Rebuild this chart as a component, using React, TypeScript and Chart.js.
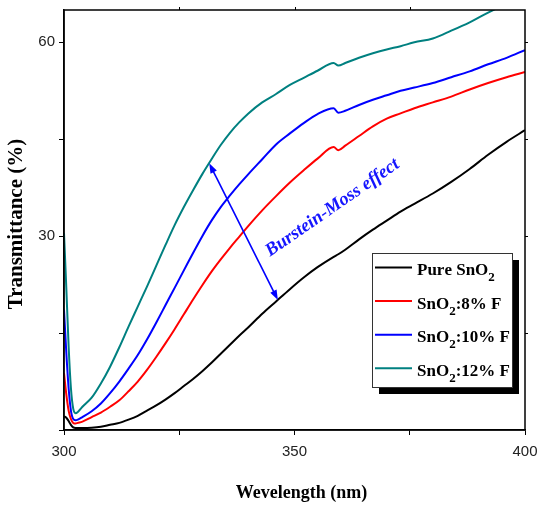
import React, { useEffect, useRef } from 'react';
import { Chart, registerables } from 'chart.js';

Chart.register(...registerables);

// ---------- data ----------
const wavelengths = [
  300, 300.5, 301, 301.5, 302, 302.5, 303, 304, 306, 308, 310, 312, 314, 316, 318, 320, 322, 324,
  326, 328, 330, 332, 334, 336, 338, 340, 343, 346, 349, 352, 355, 358.5, 359.5, 361, 364, 367,
  370, 373, 376, 380, 384, 388, 392, 396, 400,
];
const pureSnO2 = [
  2.1, 1.9, 1.4, 0.8, 0.4, 0.3, 0.3, 0.3, 0.35, 0.5, 0.8, 1.1, 1.6, 2.2, 3.0, 3.8, 4.7, 5.7,
  6.8, 7.9, 9.1, 10.4, 11.8, 13.2, 14.6, 15.9, 18.0, 19.9, 21.8, 23.6, 25.2, 26.8, 27.2, 27.9, 29.5, 31.0,
  32.4, 33.8, 35.0, 36.6, 38.4, 40.4, 42.6, 44.6, 46.4,
];
const snO2F8 = [
  8.8, 5.5, 3.0, 1.7, 1.1, 1.0, 1.1, 1.3, 2.0, 2.7, 3.6, 4.6, 6.0, 7.5, 9.3, 11.3, 13.4, 15.6,
  17.9, 20.2, 22.4, 24.5, 26.4, 28.2, 29.9, 31.6, 34.0, 36.2, 38.3, 40.2, 42.0, 43.8, 43.3, 44.0, 45.5, 47.0,
  48.2, 49.0, 49.8, 50.7, 51.6, 52.7, 53.7, 54.6, 55.4,
];
const snO2F10 = [
  18.6, 12.0, 6.5, 3.0, 1.7, 1.5, 1.6, 2.0, 2.9, 4.1, 5.7, 7.5, 9.5, 11.6, 14.0, 16.6, 19.3, 22.0,
  24.7, 27.4, 30.0, 32.4, 34.5, 36.3, 38.0, 39.6, 41.9, 44.2, 45.9, 47.5, 48.9, 49.8, 49.1, 49.4, 50.3, 51.1,
  51.8, 52.5, 53.0, 53.7, 54.6, 55.5, 56.6, 57.6, 58.8,
];
const snO2F12 = [
  30.5, 22.0, 13.0, 6.5, 3.3, 2.6, 2.8, 3.6, 5.0, 7.2, 9.8, 12.8, 16.0, 19.1, 22.2, 25.4, 28.6, 31.7,
  34.5, 37.1, 39.6, 41.9, 44.1, 46.0, 47.6, 49.0, 50.7, 52.0, 53.4, 54.5, 55.6, 56.8, 56.4, 56.8, 57.6, 58.3,
  58.9, 59.4, 60.0, 60.6, 61.8, 63.1, 64.6, 66.0, 67.5,
];

const seriesValues = [pureSnO2, snO2F8, snO2F10, snO2F12];
const seriesNames = ['Pure SnO2', 'SnO2:8% F', 'SnO2:10% F', 'SnO2:12% F'];
const seriesColors = ['#000000', '#ff0000', '#0000ff', '#008080'];

const xLabeledTicks = [300, 350, 400];
const yLabeledTicks = [30, 60];

const xTitle = 'Wevelength (nm)';
const yTitle = 'Transmittance (%)';

const arrowStart = [346.4, 20.1];
const arrowEnd = [331.5, 41.3];
const annotationText = 'Burstein-Moss effect';
const annotationAnchor = [344.7, 26.8];

const SERIF = '"Liberation Serif", "Times New Roman", serif';
const SANS = '"Liberation Sans", Arial, sans-serif';

// draw text where "O2" is rendered as O with subscript 2
function drawChem(ctx: CanvasRenderingContext2D, text: string, x: number, y: number, size: number) {
  let cx = x;
  for (let i = 0; i < text.length; i++) {
    const ch = text[i];
    if (ch === '2' && i > 0 && text[i - 1] === 'O') {
      ctx.font = `bold ${Math.round(size * 0.76)}px ${SERIF}`;
      ctx.fillText(ch, cx, y + 6);
      cx += ctx.measureText(ch).width;
    } else {
      ctx.font = `bold ${size}px ${SERIF}`;
      ctx.fillText(ch, cx, y);
      cx += ctx.measureText(ch).width;
    }
  }
}

const decorPlugin = {
  id: 'decor',
  afterDraw(chart: any) {
    const { ctx, chartArea: a, scales } = chart;
    const xs = scales.x;
    const ys = scales.y;
    ctx.save();

    // frame (top & right)
    ctx.strokeStyle = '#000';
    ctx.lineWidth = 1.5;
    ctx.strokeRect(a.left, a.top, a.right - a.left, a.bottom - a.top);
    ctx.lineWidth = 1;
    ctx.beginPath();
    for (let v = 325; v < 400; v += 25) {
      const px = Math.round(xs.getPixelForValue(v)) + 0.5;
      ctx.moveTo(px, a.top);
      ctx.lineTo(px, a.top - 3);
    }
    for (let v = 15; v <= 60; v += 15) {
      const py = Math.round(ys.getPixelForValue(v)) + 0.5;
      ctx.moveTo(a.right, py);
      ctx.lineTo(a.right + 3, py);
    }
    ctx.stroke();

    // double arrow
    const x1 = xs.getPixelForValue(arrowStart[0]);
    const y1 = ys.getPixelForValue(arrowStart[1]);
    const x2 = xs.getPixelForValue(arrowEnd[0]);
    const y2 = ys.getPixelForValue(arrowEnd[1]);
    const ang = Math.atan2(y2 - y1, x2 - x1);
    const hl = 10;
    const hw = 3.5;
    ctx.strokeStyle = '#0000ff';
    ctx.fillStyle = '#0000ff';
    ctx.lineWidth = 1.6;
    ctx.beginPath();
    ctx.moveTo(x1 + Math.cos(ang) * hl * 0.8, y1 + Math.sin(ang) * hl * 0.8);
    ctx.lineTo(x2 - Math.cos(ang) * hl * 0.8, y2 - Math.sin(ang) * hl * 0.8);
    ctx.stroke();
    const head = (tx: number, ty: number, dir: number) => {
      const bx = tx - Math.cos(dir) * hl;
      const by = ty - Math.sin(dir) * hl;
      ctx.beginPath();
      ctx.moveTo(tx, ty);
      ctx.lineTo(bx + Math.sin(dir) * hw, by - Math.cos(dir) * hw);
      ctx.lineTo(bx - Math.sin(dir) * hw, by + Math.cos(dir) * hw);
      ctx.closePath();
      ctx.fill();
    };
    head(x2, y2, ang);
    head(x1, y1, ang + Math.PI);

    // annotation
    ctx.save();
    ctx.translate(xs.getPixelForValue(annotationAnchor[0]), ys.getPixelForValue(annotationAnchor[1]));
    ctx.rotate((-34.7 * Math.PI) / 180);
    ctx.font = `italic bold 18.5px ${SERIF}`;
    ctx.fillStyle = '#1515ff';
    ctx.textAlign = 'left';
    ctx.textBaseline = 'alphabetic';
    ctx.fillText(annotationText, 0, 0);
    ctx.restore();

    // legend
    const lx = a.right - 153;
    const ly = a.top + 243;
    const lw = 140;
    const lh = 134;
    ctx.fillStyle = '#000';
    ctx.fillRect(lx + 7, ly + 7, lw, lh);
    ctx.fillStyle = '#fff';
    ctx.fillRect(lx, ly, lw, lh);
    ctx.strokeStyle = '#333';
    ctx.lineWidth = 1;
    ctx.strokeRect(lx + 0.5, ly + 0.5, lw, lh);
    ctx.textAlign = 'left';
    ctx.textBaseline = 'alphabetic';
    for (let i = 0; i < seriesNames.length; i++) {
      const rowY = ly + 14.5 + i * 33.6;
      ctx.strokeStyle = seriesColors[i];
      ctx.lineWidth = 2;
      ctx.beginPath();
      ctx.moveTo(lx + 3, rowY);
      ctx.lineTo(lx + 40, rowY);
      ctx.stroke();
      ctx.fillStyle = '#000';
      drawChem(ctx, seriesNames[i], lx + 45, rowY + 7.5, 17);
    }

    // axis titles
    ctx.fillStyle = '#000';
    ctx.textAlign = 'center';
    ctx.textBaseline = 'middle';
    ctx.font = `bold 18px ${SERIF}`;
    ctx.fillText(xTitle, (a.left + a.right) / 2 + 7, a.bottom + 63);
    ctx.save();
    ctx.translate(17, a.top + 214);
    ctx.rotate(-Math.PI / 2);
    ctx.font = `bold 21px ${SERIF}`;
    ctx.fillText(yTitle, 0, 0);
    ctx.restore();

    ctx.restore();
  },
};

export default function App() {
  const canvasRef = useRef<HTMLCanvasElement | null>(null);

  useEffect(() => {
    document.body.style.margin = '0';
    const canvas = canvasRef.current;
    if (!canvas) return;
    const datasets = seriesValues.map((vals, i) => ({
      label: seriesNames[i],
      data: wavelengths.map((w, j) => ({ x: w, y: vals[j] })),
      borderColor: seriesColors[i],
      backgroundColor: seriesColors[i],
      borderWidth: 2,
      pointRadius: 0,
      cubicInterpolationMode: 'monotone' as const,
      fill: false,
    }));
    const chart = new Chart(canvas, {
      type: 'line',
      data: { datasets },
      options: {
        responsive: false,
        animation: false,
        devicePixelRatio: 1,
        layout: { padding: { left: 0, top: 10, right: 14, bottom: 0 } },
        plugins: { legend: { display: false }, tooltip: { enabled: false } },
        scales: {
          x: {
            type: 'linear',
            min: 300,
            max: 400,
            afterFit: (s: any) => {
              s.height = 77;
              s.paddingLeft = 0;
              s.paddingRight = 0;
            },
            grid: { drawOnChartArea: false, drawTicks: true, tickLength: 5, color: '#000', lineWidth: 1 },
            border: { display: true, color: '#000', width: 1.5 },
            ticks: {
              stepSize: 25,
              includeBounds: false,
              autoSkip: false,
              maxRotation: 0,
              padding: 8,
              color: '#222',
              font: { family: SANS, size: 15 },
              callback: (v: any) => (xLabeledTicks.includes(Number(v)) ? String(v) : ''),
            },
          },
          y: {
            type: 'linear',
            min: 0,
            max: 65,
            afterFit: (s: any) => {
              s.width = 64;
              s.paddingTop = 0;
              s.paddingBottom = 0;
            },
            grid: { drawOnChartArea: false, drawTicks: true, tickLength: 5, color: '#000', lineWidth: 1 },
            border: { display: true, color: '#000', width: 1.5 },
            ticks: {
              stepSize: 15,
              includeBounds: false,
              autoSkip: false,
              padding: 4,
              color: '#222',
              font: { family: SANS, size: 15 },
              callback: (v: any) => (yLabeledTicks.includes(Number(v)) ? String(v) : ''),
            },
          },
        },
      },
      plugins: [decorPlugin],
    });
    return () => chart.destroy();
  }, []);

  return (
    <div style={{ width: 539, height: 507 }}>
      <canvas ref={canvasRef} width={539} height={507} style={{ display: 'block' }} />
    </div>
  );
}
